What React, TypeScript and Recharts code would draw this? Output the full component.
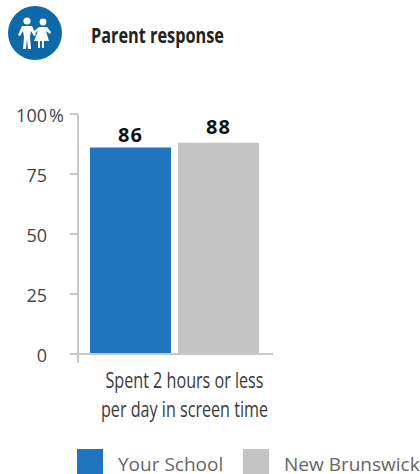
import React from 'react';
import { BarChart, Bar, XAxis, YAxis, LabelList, Legend } from 'recharts';

const categories = ['Spent 2 hours or less|per day in screen time'];
const yourSchool = [86];
const newBrunswick = [88];
const yTicks = [0, 25, 50, 75, 100];
const title = 'Parent response';

const chartData = categories.map((name, i) => ({
  name,
  'Your School': yourSchool[i],
  'New Brunswick': newBrunswick[i],
}));

const AXIS = '#c9c9c9';
const BLUE = '#1f74bd';
const GREY = '#c4c4c4';
const lineWidths = [158, 167];

const YTick = ({ y, payload }: any) => (
  <g>
    <line x1={70} x2={78} y1={y} y2={y} stroke={AXIS} strokeWidth={2} />
    <text x={47} y={y + 8} textAnchor="end" fontFamily="Open Sans" fontSize={18} fill="#444">
      {payload.value}
    </text>
    {payload.value === 100 && (
      <text x={49} y={y + 8} fontFamily="Open Sans" fontSize={18} fill="#444">%</text>
    )}
  </g>
);

const XTick = ({ payload }: any) => {
  const lines = String(payload.value).split('|');
  return (
    <g>
      <line x1={78} x2={78} y1={354} y2={363} stroke={AXIS} strokeWidth={2} />
      {lines.map((l: string, i: number) => (
        <text key={l} x={184.5} y={388 + i * 29} textAnchor="middle" fontFamily="Open Sans" fontSize={21} fill="#3a3a3a" textLength={lineWidths[i]} lengthAdjust="spacingAndGlyphs">
          {l}
        </text>
      ))}
    </g>
  );
};

const LegendBox = ({ payload }: any) => (
  <div style={{ position: 'relative', height: 25 }}>
    {payload.map((p: any, i: number) => (
      <div key={p.value} style={{ position: 'absolute', left: i === 0 ? 0 : 166, top: 0, display: 'flex', whiteSpace: 'nowrap' }}>
        <div style={{ width: 26, height: 25, background: p.color }} />
        <span style={{ marginLeft: 15, marginTop: 5, fontFamily: 'Open Sans', fontSize: 19, lineHeight: '20px', color: '#666' }}>{p.value}</span>
      </div>
    ))}
  </div>
);

const Icon = () => (
  <svg width={240} height={66} style={{ position: 'absolute', left: 0, top: 0 }}>
    <circle cx={35} cy={33} r={27} fill="#0f68a8" />
    <g fill="#fff">
      <circle cx={27} cy={21} r={3.6} />
      <path d="M22 26h10l4 9-2 1-3-5-1 6 1 12h-3l-1-10-1 10h-3l1-12-1-6-3 5-2-1z" />
      <circle cx={43} cy={22} r={3.4} />
      <path d="M39 27h8l4 5-1 2-4-3 3 10h-5v7h-2v-7h-2v7h-2v-7h-4l4-10-4 3-1-2z" />
    </g>
    <text x={91} y={43} fontFamily="Open Sans" fontWeight={700} fontSize={21} fill="#222" textLength={133} lengthAdjust="spacingAndGlyphs">{title}</text>
  </svg>
);

export default function App() {
  return (
    <div style={{ position: 'absolute', left: 0, top: 0, width: 420, height: 474, overflow: 'hidden', background: '#fff' }}>
      <Icon />
      <BarChart width={420} height={474} data={chartData} margin={{ top: 114, right: 147, bottom: 0, left: 0 }} barSize={81} barGap={7}>
        <XAxis dataKey="name" height={120} interval={0} tickLine={false} axisLine={{ stroke: AXIS, strokeWidth: 2 }} tick={<XTick />} padding={{ left: 0, right: 3 }} />
        <YAxis width={78} domain={[0, 100]} ticks={yTicks} interval={0} tickLine={false} axisLine={{ stroke: AXIS, strokeWidth: 2 }} tick={<YTick />} />
        <Legend layout="vertical" align="center" verticalAlign="middle" itemSorter={null} content={<LegendBox />} wrapperStyle={{ left: 77, top: 449, width: 343, height: 25, bottom: 'auto' }} />
        <Bar dataKey="Your School" fill={BLUE} isAnimationActive={false}>
          <LabelList dataKey="Your School" position="top" offset={6} fontFamily="Open Sans" fontWeight={700} fontSize={20} letterSpacing={1} fill="#111" />
        </Bar>
        <Bar dataKey="New Brunswick" fill={GREY} isAnimationActive={false}>
          <LabelList dataKey="New Brunswick" position="top" offset={9} fontFamily="Open Sans" fontWeight={700} fontSize={20} letterSpacing={1} fill="#111" />
        </Bar>
      </BarChart>
    </div>
  );
}
